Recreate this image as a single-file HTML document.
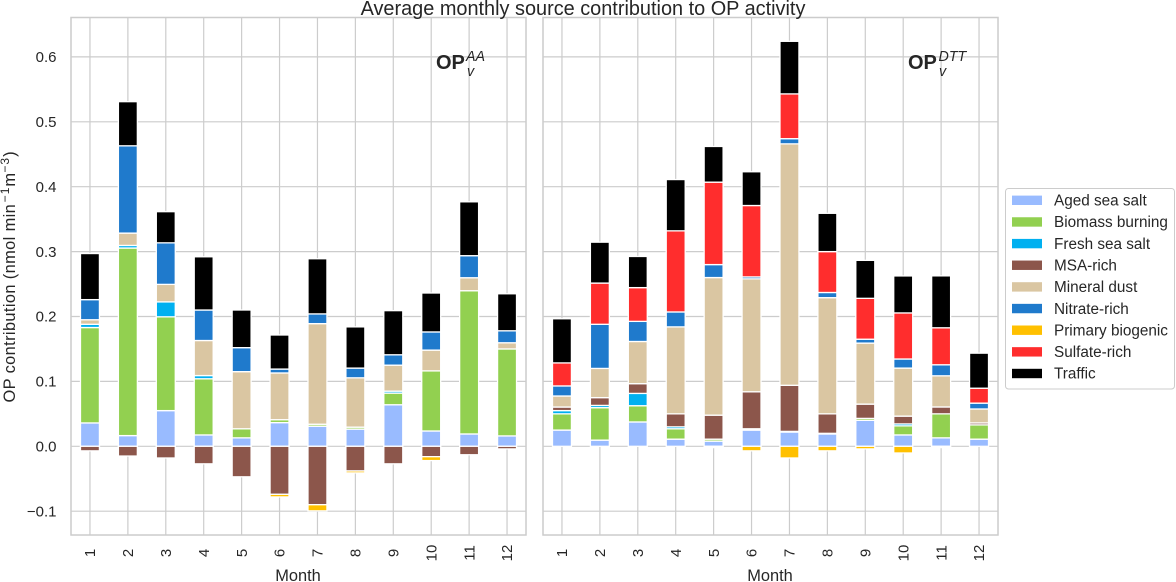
<!DOCTYPE html>
<html lang="en">
<head>
<meta charset="utf-8">
<title>Average monthly source contribution to OP activity</title>
<style>
html,body{margin:0;padding:0;background:#fff;width:1176px;height:582px;overflow:hidden}
svg{display:block}
text{font-family:"Liberation Sans",sans-serif;fill:#262626}
</style>
</head>
<body>
<svg id="chart" xmlns="http://www.w3.org/2000/svg" width="1176" height="582" viewBox="0 0 1176 582">
  <g id="panel-aa"></g>
  <g id="panel-dtt"></g>
  <text x="583" y="15" text-anchor="middle" font-size="19.9">Average monthly source contribution to OP activity</text>
  <text transform="translate(15,402.5) rotate(-90)" font-size="16.4" letter-spacing="0.38">OP contribution (nmol min<tspan font-size="12" letter-spacing="1" dx="1.5" dy="-6">−1</tspan><tspan dy="6">m</tspan><tspan font-size="12" letter-spacing="1" dy="-6">−3</tspan><tspan dy="6">)</tspan></text>
  <text x="298" y="581" text-anchor="middle" font-size="16.4">Month</text>
  <text x="770" y="581" text-anchor="middle" font-size="16.4">Month</text>
  <g>
    <text x="436" y="69" font-size="20" font-weight="bold">OP</text>
    <text x="466" y="61" font-size="14.3" font-style="italic">AA</text>
    <text x="467" y="76" font-size="14.3" font-style="italic">v</text>
  </g>
  <g>
    <text x="908" y="69" font-size="20" font-weight="bold">OP</text>
    <text x="938.5" y="61" font-size="14.3" font-style="italic">DTT</text>
    <text x="939" y="76" font-size="14.3" font-style="italic">v</text>
  </g>
  <g id="legend">
    <rect x="1005.5" y="188.5" width="169" height="200.5" rx="3" fill="#fff" stroke="#ccc" stroke-width="1"></rect>
  </g>
</svg>
<script>
const months = ['1','2','3','4','5','6','7','8','9','10','11','12'];
const yTicks = [-0.1, 0, 0.1, 0.2, 0.3, 0.4, 0.5, 0.6];
const yTickLabels = ['−0.1','0.0','0.1','0.2','0.3','0.4','0.5','0.6'];
const sources = ['Aged sea salt','Biomass burning','Fresh sea salt','MSA-rich','Mineral dust','Nitrate-rich','Primary biogenic','Sulfate-rich','Traffic'];
const sourceColors = ['#99BBFF','#92D050','#00B0F0','#8C564B','#DAC6A2','#1F7ACC','#FFC000','#FF2D2D','#000000'];

const aaAged    = [0.036,0.0165,0.055,0.0175,0.013,0.0365,0.031,0.0265,0.064,0.0236,0.019,0.016];
const aaBiomass = [0.147,0.289,0.1445,0.0865,0.014,0.0045,0.003,0.003,0.018,0.0926,0.2207,0.134];
const aaFresh   = [0.005,0.004,0.023,0.005,0,0,0,0,0.003,0,0,0];
const aaMsa     = [-0.007,-0.015,-0.018,-0.027,-0.047,-0.074,-0.09,-0.038,-0.027,-0.016,-0.013,-0.004];
const aaMineral = [0.007,0.019,0.027,0.054,0.088,0.072,0.155,0.076,0.04,0.032,0.02,0.0095];
const aaNitrate = [0.031,0.1345,0.064,0.047,0.037,0.006,0.015,0.015,0.016,0.028,0.034,0.0185];
const aaPrimary = [0,0,0,0,0,-0.004,-0.0095,-0.003,0,-0.006,0,0];
const aaSulfate = [0,0,0,0,0,0,0,0,0,0,0,0];
const aaTraffic = [0.071,0.068,0.048,0.082,0.058,0.0525,0.085,0.0635,0.068,0.06,0.083,0.057];

const dttAged    = [0.025,0.0095,0.0375,0.011,0.008,0.025,0.022,0.019,0.04,0.0175,0.013,0.011];
const dttBiomass = [0.025,0.05,0.025,0.016,0.003,0.002,0.001,0.001,0.003,0.014,0.037,0.022];
const dttFresh   = [0.005,0.0035,0.019,0.003,0,0,0,0,0,0.003,0,0];
const dttMsa     = [0.0055,0.012,0.015,0.02,0.037,0.057,0.071,0.03,0.022,0.012,0.0106,0.003];
const dttMineral = [0.017,0.045,0.065,0.134,0.212,0.174,0.372,0.179,0.094,0.074,0.048,0.0215];
const dttNitrate = [0.0155,0.068,0.031,0.023,0.02,0.003,0.008,0.008,0.006,0.014,0.017,0.009];
const dttPrimary = [0,0,0,0,-0.002,-0.007,-0.018,-0.007,-0.004,-0.0103,-0.002,0];
const dttSulfate = [0.0355,0.0635,0.052,0.125,0.127,0.11,0.069,0.063,0.063,0.071,0.057,0.023];
const dttTraffic = [0.068,0.063,0.048,0.079,0.055,0.052,0.081,0.059,0.0585,0.057,0.08,0.054];

const aaSeries = [aaAged,aaBiomass,aaFresh,aaMsa,aaMineral,aaNitrate,aaPrimary,aaSulfate,aaTraffic];
const dttSeries = [dttAged,dttBiomass,dttFresh,dttMsa,dttMineral,dttNitrate,dttPrimary,dttSulfate,dttTraffic];

const NS = 'http://www.w3.org/2000/svg';
const AX_TOP = 17.5, AX_BOTTOM = 535, AX_WIDTH = 455, Y_ZERO = 446.3, Y_PER_UNIT = 649;
function yScale(v){ return Y_ZERO - Y_PER_UNIT * v; }
function xBand(){ return AX_WIDTH / months.length; }
function xCenter(left, i){ return left + (i + 0.5) * xBand(); }
function slug(s){ return s.toLowerCase().replace(/[^a-z0-9]+/g,'-'); }
function make(tag, attrs, parent){
  const el = document.createElementNS(NS, tag);
  for (const k in attrs) el.setAttribute(k, attrs[k]);
  parent.appendChild(el);
  return el;
}

function drawPanel(id, left, series, showY, prefix){
  const g = document.getElementById(id);
  const right = left + AX_WIDTH;
  yTicks.forEach(function(t, i){
    const y = yScale(t);
    const line = make('line', {x1:left, x2:right, y1:y, y2:y, stroke:'#cccccc', 'stroke-width':1.2}, g);
    
    
    if (showY) {
      const lab = make('text', {x:left-14.5, y:y+5.2, 'text-anchor':'end', 'font-size':15}, g);
      
      
      lab.textContent = yTickLabels[i];
    }
  });
  months.forEach(function(m, i){
    const x = xCenter(left, i);
    const line = make('line', {x1:x, x2:x, y1:AX_TOP, y2:AX_BOTTOM, stroke:'#cccccc', 'stroke-width':1.2}, g);
    
    
    const lab = make('text', {transform:'translate(' + (x+5.2) + ',553) rotate(-90)', 'text-anchor':'middle', 'font-size':15}, g);
    
    
    lab.textContent = m;
  });
  const barW = xBand() * 0.5;
  months.forEach(function(m, i){
    let pos = 0, neg = 0;
    series.forEach(function(values, s){
      const v = values[i];
      if (!v) return;
      let top, bottom;
      if (v > 0) { top = yScale(pos + v); bottom = yScale(pos); pos += v; }
      else { top = yScale(neg); bottom = yScale(neg + v); neg += v; }
      const r = make('rect', {x:xCenter(left,i)-barW/2, y:top, width:barW, height:bottom-top, fill:sourceColors[s], stroke:'#ffffff', 'stroke-width':1.3}, g);
      
      
    });
  });
  const frame = make('rect', {x:left, y:AX_TOP, width:AX_WIDTH, height:AX_BOTTOM-AX_TOP, fill:'none', stroke:'#cccccc', 'stroke-width':1.5}, g);
  
  
}

drawPanel('panel-aa', 71, aaSeries, true, 'op-aa');
drawPanel('panel-dtt', 543, dttSeries, false, 'op-dtt');

const legend = document.getElementById('legend');
sources.forEach(function(name, i){
  const y = 200.3 + i * 21.65;
  const item = make('g', {}, legend);
  
  
  make('rect', {x:1012, y:y-4.7, width:30, height:9.4, fill:sourceColors[i]}, item);
  const t = make('text', {x:1054, y:y+5.2, 'font-size':15.3}, item);
  t.textContent = name;
});
</script>
</body>
</html>
